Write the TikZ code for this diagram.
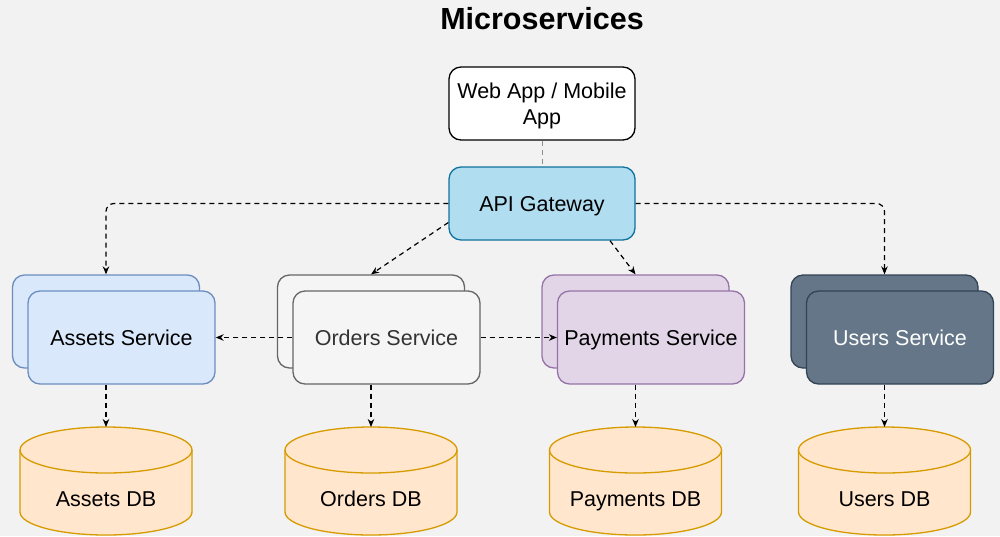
\documentclass[tikz,border=0pt]{standalone}
\usepackage{fontspec}
\setmainfont{Liberation Sans}
\usetikzlibrary{arrows.meta,calc}
\definecolor{bgc}{HTML}{F2F2F2}
\definecolor{apifill}{HTML}{B1DDF0}
\definecolor{apiline}{HTML}{10739E}
\definecolor{assetfill}{HTML}{DAE8FC}
\definecolor{assetline}{HTML}{6C8EBF}
\definecolor{orderfill}{HTML}{F5F5F5}
\definecolor{orderline}{HTML}{666666}
\definecolor{ordertext}{HTML}{333333}
\definecolor{payfill}{HTML}{E1D5E7}
\definecolor{payline}{HTML}{9673A6}
\definecolor{userfill}{HTML}{647687}
\definecolor{userline}{HTML}{314354}
\definecolor{dbfill}{HTML}{FFE6CC}
\definecolor{dbline}{HTML}{D79B00}
\definecolor{linkgray}{HTML}{8A9580}
\begin{document}
\begin{tikzpicture}[x=1pt,y=1pt,
  lbl/.style={font=\fontsize{21.5}{26}\selectfont},
  line1/.style={text height=17.5pt, text depth=2.5pt},
  box/.style={draw, rounded corners=12pt, line width=1.3pt, inner sep=0pt,
    minimum width=186pt, minimum height=73pt, align=center, lbl},
  svc/.style={box, line1, minimum width=187pt, minimum height=93pt},
  conn/.style={draw, line width=1.2pt, dash pattern=on 5pt off 4pt,
    -{Stealth[length=8pt,width=6.5pt]}},
  dbshape/.style={fill=dbfill, draw=dbline, line width=1.3pt}]
\fill[bgc] (0,0) rectangle (1000,-536);
\useasboundingbox (0,0) rectangle (1000,-536);

% title
\node[font=\fontsize{30.5}{36}\selectfont\bfseries] (title) at (542,-19) {Microservices};

% client and gateway
\node[box, fill=white, draw=black] (web) at (542,-103.5) {\rule{0pt}{21pt}Web App / Mobile\\App};
\node[box, line1, fill=apifill, draw=apiline] (api) at (542,-203.5) {API Gateway};
\draw[linkgray, line width=1pt, dash pattern=on 5pt off 4pt] (web.south) -- (api.north);

% services: back copy, then front copy
\node[svc, fill=assetfill, draw=assetline] (assetsB) at (106,-321.5) {};
\node[svc, fill=assetfill, draw=assetline] (assets) at (121.5,-337.5) {Assets Service};
\node[svc, fill=orderfill, draw=orderline] (ordersB) at (371,-321.5) {};
\node[svc, fill=orderfill, draw=orderline, text=ordertext] (orders) at (386.5,-337.5) {Orders Service};
\node[svc, fill=payfill, draw=payline] (paymentsB) at (635.5,-321.5) {};
\node[svc, fill=payfill, draw=payline] (payments) at (651,-337.5) {Payments Service};
\node[svc, fill=userfill, draw=userline] (usersB) at (884.5,-321.5) {};
\node[svc, fill=userfill, draw=userline, text=white] (users) at (900,-337.5) {Users Service};

% databases
\foreach \cx/\nm/\txt in {106/assetsdb/Assets DB, 371/ordersdb/Orders DB,
                          635.5/paymentsdb/Payments DB, 884.5/usersdb/Users DB}{
  \path[dbshape] (\cx-86,-450) -- (\cx-86,-512)
    arc[start angle=180, end angle=360, x radius=86, y radius=23]
    -- (\cx+86,-450)
    arc[start angle=0, end angle=180, x radius=86, y radius=23] -- cycle;
  \draw[dbline, line width=1.3pt] (\cx-86,-450)
    arc[start angle=180, end angle=360, x radius=86, y radius=23];
  \coordinate (\nm top) at (\cx,-427);
  \node[lbl, line1] (\nm) at (\cx,-499) {\txt};
}

% gateway to services
\draw[conn, rounded corners=8pt] (api.west) -| (assetsB.north);
\draw[conn, rounded corners=8pt] (api.east) -| (usersB.north);
\draw[conn] ($(api.west)+(0,-19)$) -- (ordersB.north);
\draw[conn] ($(api.south)+(68,0)$) -- (paymentsB.north);

% service to service
\draw[conn] (orders.west) -- (assets.east);
\draw[conn] (orders.east) -- (payments.west);

% services to their stores
\draw[conn] (assetsB.south |- assets.south) -- (assetsdbtop);
\draw[conn] (ordersB.south |- orders.south) -- (ordersdbtop);
\draw[conn] (paymentsB.south |- payments.south) -- (paymentsdbtop);
\draw[conn] (usersB.south |- users.south) -- (usersdbtop);
\end{tikzpicture}
\end{document}
